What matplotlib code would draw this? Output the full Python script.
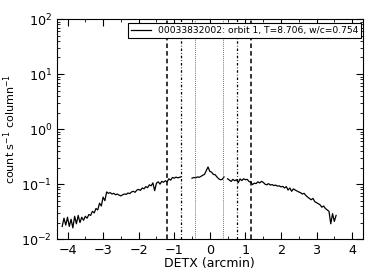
import matplotlib
matplotlib.use("Agg")
import matplotlib.pyplot as plt
import numpy as np

# count rate vs DETX, three pieces with gaps between them
seg_a_start = -4.15
seg_a = [0.017, 0.024, 0.018, 0.025, 0.017, 0.023, 0.016, 0.026, 0.019, 0.027,
         0.020, 0.025, 0.022, 0.026, 0.024, 0.028, 0.027, 0.032, 0.030, 0.036,
         0.034, 0.045, 0.040, 0.058, 0.050, 0.072, 0.068, 0.070, 0.066, 0.068,
         0.064, 0.066, 0.063, 0.061, 0.064, 0.066, 0.065, 0.069, 0.067, 0.072,
         0.074, 0.071, 0.078, 0.080, 0.077, 0.085, 0.082, 0.090, 0.086, 0.097,
         0.093, 0.105, 0.076, 0.104, 0.110, 0.100, 0.112, 0.108, 0.115, 0.110,
         0.125, 0.118, 0.132, 0.128, 0.134, 0.130, 0.133, 0.136]
seg_b_start = -0.50
seg_b = [0.128, 0.132, 0.130, 0.135, 0.133, 0.138, 0.145, 0.150, 0.175, 0.205,
         0.170, 0.165, 0.150, 0.148, 0.135, 0.125, 0.120, 0.122, 0.135]
seg_c_start = 0.50
seg_c = [0.125, 0.118, 0.112, 0.122, 0.115, 0.120, 0.106, 0.124, 0.116, 0.125,
         0.120, 0.122, 0.112, 0.108, 0.098, 0.104, 0.102, 0.110, 0.105, 0.112,
         0.108, 0.100, 0.097, 0.102, 0.096, 0.098, 0.094, 0.096, 0.092, 0.093,
         0.089, 0.091, 0.085, 0.090, 0.078, 0.085, 0.074, 0.082, 0.078, 0.075,
         0.072, 0.070, 0.066, 0.068, 0.062, 0.058, 0.055, 0.052, 0.055, 0.048,
         0.046, 0.044, 0.042, 0.038, 0.040, 0.036, 0.034, 0.032, 0.019, 0.029,
         0.021, 0.027]
step = 0.05

dashed_x = [-1.20, 1.17]
dashdot_x = [-0.80, 0.77]
dotted_x = [-0.41, 0.38]

label = "00033832002: orbit 1, T=8.706, w/c=0.754"

plt.rcParams['font.family'] = ['DejaVu Sans']
fig = plt.figure(figsize=(3.74, 2.80), dpi=100)
ax = fig.add_axes([0.152, 0.146, 0.818, 0.786])

xs, ys = [], []
for start, vals in [(seg_a_start, seg_a), (seg_b_start, seg_b), (seg_c_start, seg_c)]:
    xs += list(start + step * np.arange(len(vals))) + [np.nan]
    ys += list(vals) + [np.nan]
ax.plot(xs, ys, color='k', lw=0.9, label=label)

for v in dashed_x:
    ax.axvline(v, color='k', lw=1.1, ls=(0, (3, 2)))
for v in dashdot_x:
    ax.axvline(v, color='k', lw=0.9, ls=(0, (2, 1.6, 0.6, 1.6)))
for v in dotted_x:
    ax.axvline(v, color='0.35', lw=0.7, ls=(0, (0.8, 1.2)))

ax.set_yscale('log')
ax.set_ylim(1e-2, 1e2)
ax.set_xlim(-4.3, 4.3)
ax.set_xticks(np.arange(-4, 5, 1))
ax.set_xticks(np.arange(-4, 4.5, 0.5), minor=True)
ax.tick_params(which='both', direction='in', top=True, right=True, labelsize=9.2)
ax.tick_params(which='major', length=5, width=0.8)
ax.tick_params(which='minor', length=2.5, width=0.6)
ax.set_xticklabels(['\u22124', '\u22123', '\u22122', '\u22121', '0', '1', '2', '3', '4'])
ax.set_xlabel('DETX (arcmin)', fontsize=9.0, labelpad=0)
ax.set_ylabel('count s$^{-1}$ column$^{-1}$', fontsize=8.0, labelpad=2)

leg = ax.legend(loc='upper right', bbox_to_anchor=(0.995, 0.98), fontsize=6.6,
                fancybox=False, framealpha=1, borderpad=0.3, handlelength=2.2,
                borderaxespad=0)
leg.get_frame().set_edgecolor('k')
leg.get_frame().set_linewidth(0.8)

fig.savefig('out.png', dpi=100)
